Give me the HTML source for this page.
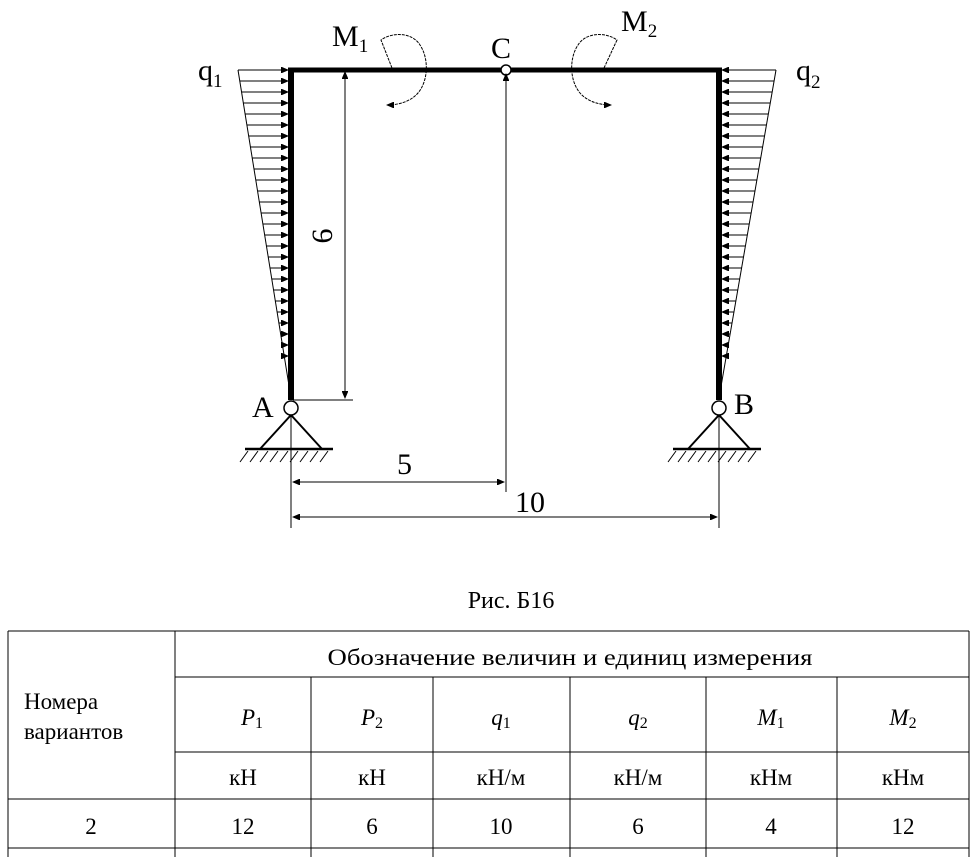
<!DOCTYPE html>
<html><head><meta charset="utf-8"><style>
body{margin:0;background:#fff;width:977px;height:857px;overflow:hidden;position:relative;font-family:"Liberation Serif",serif}
svg{position:absolute;left:0;top:0}
</style></head><body>
<svg width="977" height="857" viewBox="0 0 977 857" font-family="Liberation Serif, serif">
<defs>
<marker id="ar" markerWidth="8" markerHeight="6" refX="7" refY="3" orient="auto" markerUnits="userSpaceOnUse"><path d="M0,0 L7,3 L0,6 Z" fill="#000" stroke="#000" stroke-width="0.8"/></marker>
</defs>
<g stroke="#000" stroke-width="1" fill="none">
<line x1="238" y1="70" x2="291" y2="398"/>
<line x1="719" y1="398" x2="776" y2="70"/>
</g>
<g stroke="#000" stroke-width="1" marker-end="url(#ar)">
<line x1="238" y1="70" x2="288" y2="70"/><line x1="776" y1="70" x2="722" y2="70"/>
<line x1="239.8" y1="81" x2="288" y2="81"/><line x1="774.1" y1="81" x2="722" y2="81"/>
<line x1="241.6" y1="92" x2="288" y2="92"/><line x1="772.2" y1="92" x2="722" y2="92"/>
<line x1="243.3" y1="103" x2="288" y2="103"/><line x1="770.3" y1="103" x2="722" y2="103"/>
<line x1="245.1" y1="114" x2="288" y2="114"/><line x1="768.4" y1="114" x2="722" y2="114"/>
<line x1="246.9" y1="125" x2="288" y2="125"/><line x1="766.4" y1="125" x2="722" y2="125"/>
<line x1="248.7" y1="136" x2="288" y2="136"/><line x1="764.5" y1="136" x2="722" y2="136"/>
<line x1="250.4" y1="147" x2="288" y2="147"/><line x1="762.6" y1="147" x2="722" y2="147"/>
<line x1="252.2" y1="158" x2="288" y2="158"/><line x1="760.7" y1="158" x2="722" y2="158"/>
<line x1="254.0" y1="169" x2="288" y2="169"/><line x1="758.8" y1="169" x2="722" y2="169"/>
<line x1="255.8" y1="180" x2="288" y2="180"/><line x1="756.9" y1="180" x2="722" y2="180"/>
<line x1="257.6" y1="191" x2="288" y2="191"/><line x1="755.0" y1="191" x2="722" y2="191"/>
<line x1="259.3" y1="202" x2="288" y2="202"/><line x1="753.1" y1="202" x2="722" y2="202"/>
<line x1="261.1" y1="213" x2="288" y2="213"/><line x1="751.1" y1="213" x2="722" y2="213"/>
<line x1="262.9" y1="224" x2="288" y2="224"/><line x1="749.2" y1="224" x2="722" y2="224"/>
<line x1="264.7" y1="235" x2="288" y2="235"/><line x1="747.3" y1="235" x2="722" y2="235"/>
<line x1="266.4" y1="246" x2="288" y2="246"/><line x1="745.4" y1="246" x2="722" y2="246"/>
<line x1="268.2" y1="257" x2="288" y2="257"/><line x1="743.5" y1="257" x2="722" y2="257"/>
<line x1="270.0" y1="268" x2="288" y2="268"/><line x1="741.6" y1="268" x2="722" y2="268"/>
<line x1="271.8" y1="279" x2="288" y2="279"/><line x1="739.7" y1="279" x2="722" y2="279"/>
<line x1="273.5" y1="290" x2="288" y2="290"/><line x1="737.8" y1="290" x2="722" y2="290"/>
<line x1="275.3" y1="301" x2="288" y2="301"/><line x1="735.9" y1="301" x2="722" y2="301"/>
<line x1="277.1" y1="312" x2="288" y2="312"/><line x1="733.9" y1="312" x2="722" y2="312"/>
<line x1="278.9" y1="323" x2="288" y2="323"/><line x1="732.0" y1="323" x2="722" y2="323"/>
<line x1="280.7" y1="334" x2="288" y2="334"/><line x1="730.1" y1="334" x2="722" y2="334"/>
<line x1="281.4" y1="345" x2="288" y2="345"/><line x1="728.2" y1="345" x2="722" y2="345"/>
<line x1="282.2" y1="356" x2="288" y2="356"/><line x1="727.3" y1="356" x2="722" y2="356"/>
</g>
<g stroke="#000" fill="none">
<line x1="291" y1="400" x2="291" y2="68" stroke-width="6"/>
<line x1="719" y1="400" x2="719" y2="68" stroke-width="6"/>
<line x1="288" y1="70" x2="722" y2="70" stroke-width="5"/>
<circle cx="506" cy="70" r="5" fill="#fff" stroke-width="1.5"/>
<circle cx="291" cy="408" r="7" fill="#fff" stroke-width="1.5"/>
<circle cx="719" cy="408" r="7" fill="#fff" stroke-width="1.5"/>
<path d="M291,415 L260,449 M291,415 L322,449 M719,415 L688,449 M719,415 L750,449" stroke-width="2"/>
<line x1="245" y1="449" x2="333" y2="449" stroke-width="2.5"/>
<line x1="673" y1="449" x2="761" y2="449" stroke-width="2.5"/>
<path d="M240,462l8,-11M250,462l8,-11M260,462l8,-11M270,462l8,-11M280,462l8,-11M290,462l8,-11M300,462l8,-11M310,462l8,-11M320,462l8,-11
M668,462l8,-11M678,462l8,-11M688,462l8,-11M698,462l8,-11M708,462l8,-11M718,462l8,-11M728,462l8,-11M738,462l8,-11M748,462l8,-11" stroke-width="1"/>
<line x1="345" y1="72" x2="345" y2="398" stroke-width="1" marker-end="url(#ar)"/>
<line x1="345" y1="398" x2="345" y2="72" stroke-width="1" marker-end="url(#ar)"/>
<line x1="293" y1="400" x2="353" y2="400" stroke-width="1"/>
<line x1="506" y1="75" x2="506" y2="492" stroke-width="1"/>
<line x1="506" y1="300" x2="506" y2="74" stroke-width="1" marker-end="url(#ar)"/>
<line x1="291" y1="415" x2="291" y2="528" stroke-width="1"/>
<line x1="719" y1="415" x2="719" y2="528" stroke-width="1"/>
<line x1="293" y1="482" x2="504" y2="482" stroke-width="1" marker-end="url(#ar)"/>
<line x1="504" y1="482" x2="293" y2="482" stroke-width="1" marker-end="url(#ar)"/>
<line x1="293" y1="517" x2="717" y2="517" stroke-width="1" marker-end="url(#ar)"/>
<line x1="717" y1="517" x2="293" y2="517" stroke-width="1" marker-end="url(#ar)"/>
<path d="M392,68 L381,40 C392,32 412,32 420,45 C430,60 428,85 415,96 C408,102 398,105 387,105" stroke-width="1" stroke-dasharray="3,1" marker-end="url(#ar)"/>
<path d="M604,68 L617,40 C606,32 586,32 578,45 C568,60 570,85 583,96 C590,102 600,105 611,105" stroke-width="1" stroke-dasharray="3,1" marker-end="url(#ar)"/>
</g>
<g fill="#000" font-size="30">
<text x="198" y="80">q<tspan font-size="19" dy="7">1</tspan></text>
<text x="796" y="80">q<tspan font-size="19" dy="8">2</tspan></text>
<text x="332" y="46">M<tspan font-size="19" dy="6">1</tspan></text>
<text x="621" y="31">M<tspan font-size="19" dy="6">2</tspan></text>
<text x="491" y="58">C</text>
<text x="252" y="417">A</text>
<text x="734" y="414">B</text>
<text x="397" y="474">5</text>
<text x="515" y="512">10</text>
<text transform="translate(332,236) rotate(-90)" text-anchor="middle">6</text>
</g>
<text x="511" y="608" font-size="24" text-anchor="middle">Рис. Б16</text>
<g stroke="#000" stroke-width="1" fill="none">
<line x1="8" y1="631" x2="969" y2="631"/>
<line x1="175" y1="677" x2="969" y2="677"/>
<line x1="175" y1="752" x2="969" y2="752"/>
<line x1="8" y1="799" x2="969" y2="799"/>
<line x1="8" y1="848" x2="969" y2="848"/>
<line x1="8" y1="631" x2="8" y2="857"/>
<line x1="175" y1="631" x2="175" y2="857"/>
<line x1="969" y1="631" x2="969" y2="857"/>
<line x1="311" y1="677" x2="311" y2="857"/>
<line x1="433" y1="677" x2="433" y2="857"/>
<line x1="570" y1="677" x2="570" y2="857"/>
<line x1="706" y1="677" x2="706" y2="857"/>
<line x1="837" y1="677" x2="837" y2="857"/>
</g>
<g fill="#000" font-size="23" text-anchor="middle">
<text x="570" y="665" textLength="485" lengthAdjust="spacingAndGlyphs">Обозначение величин и единиц измерения</text>
<text x="24" y="709" text-anchor="start">Номера</text>
<text x="24" y="739" text-anchor="start">вариантов</text>
<g font-style="italic">
<text x="252" y="725">P<tspan font-size="16" font-style="normal" dy="3">1</tspan></text>
<text x="372" y="725">P<tspan font-size="16" font-style="normal" dy="3">2</tspan></text>
<text x="501" y="725">q<tspan font-size="16" font-style="normal" dy="3">1</tspan></text>
<text x="638" y="725">q<tspan font-size="16" font-style="normal" dy="3">2</tspan></text>
<text x="771" y="725">M<tspan font-size="16" font-style="normal" dy="3">1</tspan></text>
<text x="903" y="725">M<tspan font-size="16" font-style="normal" dy="3">2</tspan></text>
</g>
<text x="243" y="785">кН</text>
<text x="372" y="785">кН</text>
<text x="501" y="785">кН/м</text>
<text x="638" y="785">кН/м</text>
<text x="771" y="785">кНм</text>
<text x="903" y="785">кНм</text>
<text x="91" y="834">2</text>
<text x="243" y="834">12</text>
<text x="372" y="834">6</text>
<text x="501" y="834">10</text>
<text x="638" y="834">6</text>
<text x="771" y="834">4</text>
<text x="903" y="834">12</text>
</g>
</svg>
</body></html>
